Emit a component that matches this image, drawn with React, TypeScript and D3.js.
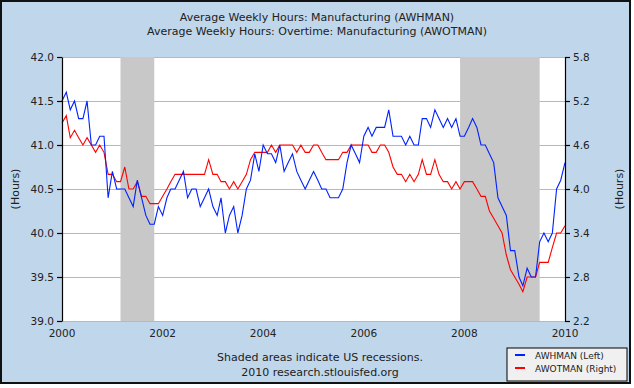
import * as d3 from "d3";
import { useEffect, useRef } from "react";

// monthly, Jan 2000 .. Jan 2010
const startMonth = new Date(2000, 0, 1);

const awhman = [
    41.5, 41.6, 41.4, 41.5, 41.3, 41.3, 41.5, 41.0, 41.0, 41.1, 41.1, 40.4,
    40.7, 40.5, 40.5, 40.5, 40.4, 40.3, 40.6, 40.4, 40.2, 40.1, 40.1, 40.3,
    40.2, 40.4, 40.5, 40.5, 40.6, 40.7, 40.4, 40.5, 40.5, 40.3, 40.4, 40.5,
    40.3, 40.2, 40.4, 40.0, 40.2, 40.3, 40.0, 40.2, 40.5, 40.6, 40.9, 40.7,
    41.0, 40.9, 40.9, 40.8, 41.0, 40.7, 40.8, 40.9, 40.7, 40.6, 40.5, 40.6,
    40.7, 40.6, 40.5, 40.5, 40.4, 40.4, 40.4, 40.5, 40.8, 41.0, 40.9, 40.8,
    41.1, 41.2, 41.1, 41.2, 41.2, 41.2, 41.4, 41.1, 41.1, 41.1, 41.0, 41.1,
    41.0, 41.0, 41.3, 41.3, 41.2, 41.4, 41.3, 41.2, 41.3, 41.2, 41.3, 41.1,
    41.1, 41.2, 41.3, 41.2, 41.0, 41.0, 40.9, 40.8, 40.4, 40.3, 40.2, 39.8,
    39.8, 39.5, 39.4, 39.6, 39.5, 39.5, 39.9, 40.0, 39.9, 40.0, 40.5, 40.6,
    40.8,
];

const awotman = [
    4.9, 5.0, 4.7, 4.8, 4.7, 4.6, 4.7, 4.6, 4.5, 4.6, 4.5, 4.2,
    4.2, 4.1, 4.1, 4.3, 4.0, 4.0, 4.1, 3.9, 3.9, 3.8, 3.8, 3.8,
    3.9, 4.0, 4.1, 4.2, 4.2, 4.2, 4.2, 4.2, 4.2, 4.2, 4.2, 4.4,
    4.2, 4.2, 4.1, 4.1, 4.0, 4.1, 4.0, 4.1, 4.2, 4.4, 4.5, 4.5,
    4.5, 4.5, 4.6, 4.5, 4.6, 4.6, 4.6, 4.6, 4.5, 4.6, 4.5, 4.5,
    4.6, 4.6, 4.5, 4.4, 4.4, 4.4, 4.4, 4.5, 4.5, 4.6, 4.6, 4.6,
    4.6, 4.6, 4.5, 4.5, 4.6, 4.6, 4.5, 4.3, 4.2, 4.2, 4.1, 4.2,
    4.1, 4.2, 4.4, 4.2, 4.2, 4.4, 4.2, 4.1, 4.1, 4.0, 4.1, 4.0,
    4.1, 4.1, 4.1, 4.0, 3.9, 3.9, 3.7, 3.6, 3.5, 3.4, 3.1, 2.9,
    2.8, 2.7, 2.6, 2.8, 2.8, 2.8, 3.0, 3.0, 3.0, 3.2, 3.4, 3.4,
    3.5,
];

const leftTicks = [39.0, 39.5, 40.0, 40.5, 41.0, 41.5, 42.0];
const rightTicks = [2.2, 2.8, 3.4, 4.0, 4.6, 5.2, 5.8];
const yearTicks = [2000, 2002, 2004, 2006, 2008, 2010];

const recessions = [
    [new Date(2001, 2, 1), new Date(2001, 10, 1)],
    [new Date(2007, 11, 1), new Date(2009, 6, 1)],
];

const titleLines = [
    "Average Weekly Hours: Manufacturing (AWHMAN)",
    "Average Weekly Hours: Overtime: Manufacturing (AWOTMAN)",
];
const footLines = ["Shaded areas indicate US recessions.", "2010 research.stlouisfed.org"];
const legendItems = [
    { label: "AWHMAN (Left)", color: "#0022ff" },
    { label: "AWOTMAN (Right)", color: "#ff0000" },
];

export default function App() {
    const ref = useRef<SVGSVGElement | null>(null);

    useEffect(() => {
        if (!ref.current) return;
        const width = 634;
        const height = 388;
        const margin = { top: 57, right: 69, bottom: 67, left: 62 };
        const font = "'DejaVu Sans', Verdana, sans-serif";

        const svg = d3.select(ref.current);
        svg.selectAll("*").remove();

        // panel
        svg.append("rect")
            .attr("x", 1).attr("y", 1)
            .attr("width", 629).attr("height", 382)
            .attr("fill", "#c0d6ea")
            .attr("stroke", "#111").attr("stroke-width", 2);

        const x = d3.scaleTime()
            .domain([new Date(2000, 0, 1), new Date(2010, 0, 1)])
            .range([margin.left, width - margin.right]);
        const yL = d3.scaleLinear().domain([39, 42]).range([height - margin.bottom, margin.top]);
        const yR = d3.scaleLinear().domain([2.2, 5.8]).range([height - margin.bottom, margin.top]);

        // plot bg
        svg.append("rect")
            .attr("x", margin.left).attr("y", margin.top)
            .attr("width", x.range()[1] - x.range()[0])
            .attr("height", yL.range()[0] - yL.range()[1])
            .attr("fill", "#fff");

        // grid
        svg.append("g")
            .selectAll("line")
            .data(leftTicks)
            .join("line")
            .attr("x1", x.range()[0]).attr("x2", x.range()[1])
            .attr("y1", (d) => Math.round(yL(d)) + 0.5)
            .attr("y2", (d) => Math.round(yL(d)) + 0.5)
            .attr("stroke", "#b8b8b8");

        // recession bands
        svg.append("g")
            .selectAll("rect")
            .data(recessions)
            .join("rect")
            .attr("x", (d) => x(d[0]))
            .attr("width", (d) => x(d[1]) - x(d[0]))
            .attr("y", margin.top)
            .attr("height", yL.range()[0] - yL.range()[1])
            .attr("fill", "#c8c8c8");

        const dates = awhman.map((_, i) => d3.timeMonth.offset(startMonth, i));

        const lineL = d3.line<number>()
            .x((_, i) => x(dates[i]))
            .y((d) => yL(d));
        const lineR = d3.line<number>()
            .x((_, i) => x(dates[i]))
            .y((d) => yR(d));

        svg.append("path")
            .datum(awotman)
            .attr("d", lineR)
            .attr("fill", "none")
            .attr("stroke", legendItems[1].color)
            .attr("stroke-width", 1.1);
        svg.append("path")
            .datum(awhman)
            .attr("d", lineL)
            .attr("fill", "none")
            .attr("stroke", legendItems[0].color)
            .attr("stroke-width", 1.1);

        // axes
        const gl = svg.append("g")
            .attr("transform", `translate(${margin.left},0)`)
            .call(d3.axisLeft(yL).tickValues(leftTicks).tickFormat(d3.format(".1f")).tickSize(5).tickSizeOuter(0).tickPadding(3));
        const gr = svg.append("g")
            .attr("transform", `translate(${width - margin.right},0)`)
            .call(d3.axisRight(yR).tickValues(rightTicks).tickFormat(d3.format(".1f")).tickSize(5).tickSizeOuter(0).tickPadding(3));
        [gl, gr].forEach((g) => {
            g.selectAll("path, line").attr("stroke", "#000").attr("stroke-width", 1.2);
            g.selectAll("text").attr("font-family", font).attr("font-size", 10.5).attr("fill", "#222");
        });

        svg.append("g")
            .selectAll("text")
            .data(yearTicks)
            .join("text")
            .attr("x", (d) => x(new Date(d, 0, 1)))
            .attr("y", 337)
            .attr("text-anchor", "middle")
            .attr("font-family", font)
            .attr("font-size", 10.5)
            .attr("fill", "#222")
            .text((d) => d);

        // axis titles
        svg.append("text")
            .attr("transform", `translate(19,${(margin.top + height - margin.bottom) / 2}) rotate(-90)`)
            .attr("text-anchor", "middle")
            .attr("font-family", font).attr("font-size", 11).attr("fill", "#222")
            .text("(Hours)");
        svg.append("text")
            .attr("transform", `translate(623,${(margin.top + height - margin.bottom) / 2}) rotate(-90)`)
            .attr("text-anchor", "middle")
            .attr("font-family", font).attr("font-size", 11).attr("fill", "#222")
            .text("(Hours)");

        // title
        svg.append("g")
            .selectAll("text")
            .data(titleLines)
            .join("text")
            .attr("x", 317)
            .attr("y", (_, i) => 21 + i * 14)
            .attr("text-anchor", "middle")
            .attr("font-family", font).attr("font-size", 11).attr("fill", "#222")
            .text((d) => d);

        // footer
        svg.append("g")
            .selectAll("text")
            .data(footLines)
            .join("text")
            .attr("x", 320)
            .attr("y", (_, i) => 361 + i * 15)
            .attr("text-anchor", "middle")
            .attr("font-family", font).attr("font-size", 11).attr("fill", "#222")
            .text((d) => d);

        // legend
        const lg = svg.append("g").attr("transform", "translate(507,348)");
        lg.append("rect")
            .attr("width", 120).attr("height", 33)
            .attr("fill", "#f0f0f0").attr("stroke", "#000");
        legendItems.forEach((it, i) => {
            lg.append("line")
                .attr("x1", 8).attr("x2", 18)
                .attr("y1", 7 + i * 13).attr("y2", 7 + i * 13)
                .attr("stroke", it.color).attr("stroke-width", 2);
            lg.append("text")
                .attr("x", 28).attr("y", 10.5 + i * 13)
                .attr("font-family", font).attr("font-size", 9).attr("fill", "#222")
                .text(it.label);
        });
    }, []);

    return (
        <svg
            ref={ref}
            width={634}
            height={388}
            style={{ position: "absolute", left: 0, top: 0, background: "#fff" }}
        ></svg>
    );
}
